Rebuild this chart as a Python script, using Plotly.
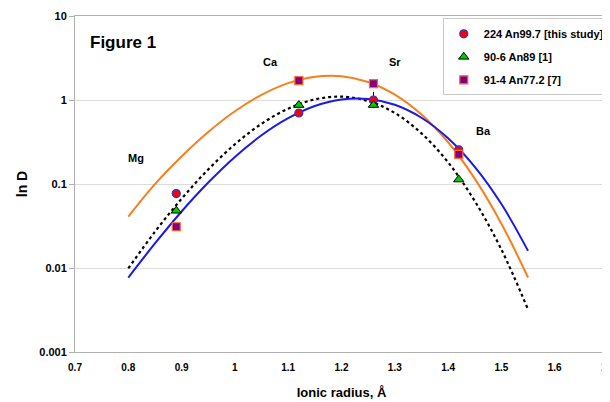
import math
import plotly.graph_objects as go

# ---- data ----
elements = ["Mg", "Ca", "Sr", "Ba"]
radius = [0.89, 1.12, 1.26, 1.42]

d_224 = [0.077, 0.70, 1.00, 0.255]      # 224 An99.7 [this study]
d_224_err_plus = [0, 0, 0.25, 0]
d_224_err_minus = [0, 0, 0.20, 0]
d_906 = [0.048, 0.87, 0.87, 0.113]      # 90-6 An89 [1]
d_914 = [0.031, 1.70, 1.57, 0.225]      # 91-4 An77.2 [7]

# fitted curves
curve_r = [0.80, 0.85, 0.90, 0.95, 1.00, 1.05, 1.10, 1.15, 1.20, 1.25, 1.30, 1.35, 1.40, 1.45, 1.50, 1.55]
curve_224 = [0.0077, 0.0196, 0.0471, 0.104, 0.210, 0.380, 0.607, 0.847, 1.015, 1.03, 0.878, 0.615, 0.350, 0.160, 0.0577, 0.0160]
curve_906 = [0.0099, 0.0270, 0.0667, 0.149, 0.297, 0.521, 0.789, 1.016, 1.096, 0.972, 0.700, 0.401, 0.181, 0.0627, 0.0166, 0.0032]
curve_914 = [0.041, 0.0998, 0.213, 0.416, 0.734, 1.153, 1.59, 1.89, 1.92, 1.64, 1.16, 0.673, 0.314, 0.116, 0.0337, 0.0077]

# element label placement (layout, not data)
label_x = [0.815, 1.066, 1.30, 1.467]
label_y = [0.204, 2.82, 2.82, 0.427]

FONT = "Liberation Sans, Arial, sans-serif"

fig = go.Figure()

fig.add_trace(go.Scatter(x=curve_r, y=curve_914, mode="lines", line=dict(color="#F7801E", width=2, shape="spline"),
                         showlegend=False, hoverinfo="skip"))
fig.add_trace(go.Scatter(x=curve_r, y=curve_906, mode="lines", line=dict(color="black", width=2.2, dash="3px,3px", shape="spline"),
                         showlegend=False, hoverinfo="skip"))
fig.add_trace(go.Scatter(x=curve_r, y=curve_224, mode="lines", line=dict(color="#1A1AE6", width=2, shape="spline"),
                         showlegend=False, hoverinfo="skip"))

fig.add_trace(go.Scatter(x=radius, y=d_224, mode="markers", name="224 An99.7 [this study]", legendgroup="a",
                         marker=dict(symbol="circle", size=8, color="#FF0000", line=dict(color="#3333CC", width=1.2)),
                         error_y=dict(type="data", symmetric=False, array=d_224_err_plus, arrayminus=d_224_err_minus,
                                      color="black", thickness=1, width=0)))
fig.add_trace(go.Scatter(x=radius, y=d_906, mode="markers", name="90-6 An89 [1]", legendgroup="b",
                         marker=dict(symbol="triangle-up", size=9, color="#00CC00", line=dict(color="black", width=1))))
fig.add_trace(go.Scatter(x=radius, y=d_914, mode="markers", name="91-4 An77.2 [7]", legendgroup="c",
                         marker=dict(symbol="square", size=8, color="#800080", line=dict(color="#FF6633", width=1.2))))

annotations = [dict(x=0.025, y=0.955, xref="paper", yref="paper", text="<b>Figure 1</b>", showarrow=False,
                    xanchor="left", yanchor="top", font=dict(size=17, color="black", family=FONT))]
for el, lx, ly in zip(elements, label_x, label_y):
    annotations.append(dict(x=lx, y=math.log10(ly), xref="x", yref="y", text=f"<b>{el}</b>", showarrow=False,
                            font=dict(size=11, color="black", family=FONT)))

fig.update_layout(
    width=610, height=402,
    margin=dict(l=67, r=10, t=8, b=58, autoexpand=False),
    paper_bgcolor="white", plot_bgcolor="white",
    font=dict(family=FONT, color="black"),
    annotations=annotations,
    legend=dict(x=0.69, y=0.993, xanchor="left", yanchor="top", bgcolor="white",
                bordercolor="#C8C8C8", borderwidth=1, tracegroupgap=4,
                font=dict(size=11, color="black", family=FONT, weight="bold"),
                itemwidth=30),
)

fig.update_xaxes(range=[0.7, 1.7], dtick=0.1, tick0=0.7, showgrid=False, zeroline=False,
                 showline=True, linecolor="#B0B0B0", linewidth=1, mirror=True, automargin=False,
                 ticks="", tickfont=dict(size=10, family=FONT, weight="bold"),
                 ticklabelstandoff=6,
                 title=dict(text="<b>Ionic radius, Å</b>", font=dict(size=13, family=FONT), standoff=15))
fig.update_yaxes(type="log", range=[-3, 1], tickvals=[0.001, 0.01, 0.1, 1, 10],
                 ticktext=["0.001", "0.01", "0.1", "1", "10"], automargin=False,
                 showgrid=True, gridcolor="#DCDCDC", gridwidth=1, zeroline=False,
                 showline=True, linecolor="#B0B0B0", linewidth=1, mirror=True,
                 ticks="outside", ticklen=5, tickcolor="#B0B0B0",
                 tickfont=dict(size=11, family=FONT, weight="bold"),
                 title=dict(text="<b>ln D</b>", font=dict(size=14, family=FONT), standoff=8))

fig.write_html("out.html")
